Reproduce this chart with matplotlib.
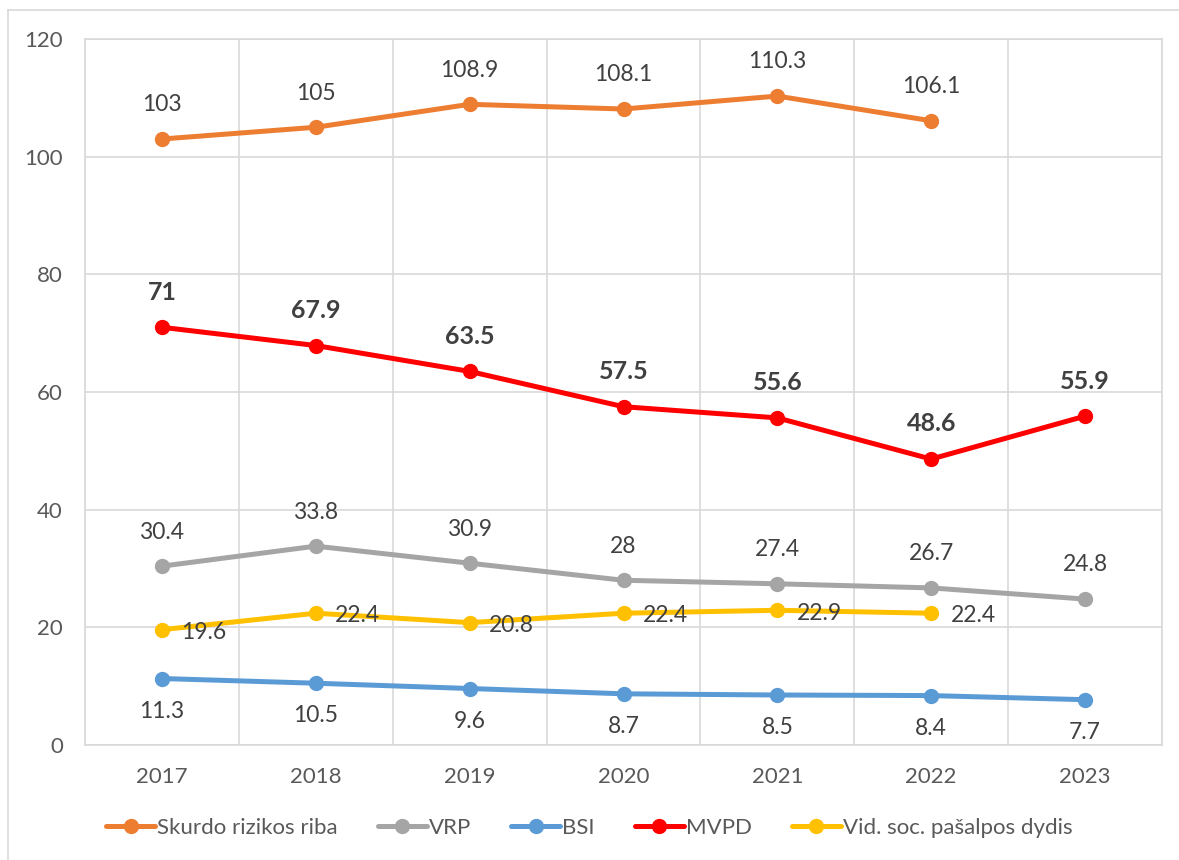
import matplotlib.pyplot as plt
from matplotlib.lines import Line2D
import numpy as np

plt.rcParams["font.family"] = ["Lato", "DejaVu Sans"]

years = ["2017", "2018", "2019", "2020", "2021", "2022", "2023"]
skurdo = [103, 105, 108.9, 108.1, 110.3, 106.1, None]
vrp = [30.4, 33.8, 30.9, 28, 27.4, 26.7, 24.8]
bsi = [11.3, 10.5, 9.6, 8.7, 8.5, 8.4, 7.7]
mvpd = [71, 67.9, 63.5, 57.5, 55.6, 48.6, 55.9]
vid_soc = [19.6, 22.4, 20.8, 22.4, 22.9, 22.4, None]

TEXT = "#404040"
GRID = "#D9D9D9"

fig = plt.figure(figsize=(11.79, 8.6), dpi=100)
ax = fig.add_axes([85 / 1179, 1 - 745 / 860, (1162 - 85) / 1179, (745 - 39) / 860])

# light frame round the chart (left / top edges visible in the reference)
fig.add_artist(Line2D([8 / 1179, 8 / 1179], [0, 1 - 10 / 860], transform=fig.transFigure, color=GRID, lw=1.2))
fig.add_artist(Line2D([8 / 1179, 1], [1 - 10 / 860, 1 - 10 / 860], transform=fig.transFigure, color=GRID, lw=1.2))


def fmt(v):
    return f"{v:g}"


series = [
    ("Skurdo rizikos riba", skurdo, "#ED7D31", "above", "normal"),
    ("VRP", vrp, "#A5A5A5", "above", "normal"),
    ("BSI", bsi, "#5B9BD5", "below", "normal"),
    ("MVPD", mvpd, "#FF0000", "above", "bold"),
    ("Vid. soc. pašalpos dydis", vid_soc, "#FFC000", "right", "normal"),
]

x = np.arange(len(years))
for name, vals, color, pos, weight in series:
    xs = [i for i, v in zip(x, vals) if v is not None]
    ys = [v for v in vals if v is not None]
    ax.plot(xs, ys, color=color, lw=3.6, marker="o", ms=10, label=name, solid_capstyle="round", zorder=3)
    size = 18 if weight == "bold" else 16.5
    for xi, yi in zip(xs, ys):
        if pos == "above":
            ax.annotate(fmt(yi), (xi, yi), xytext=(0, 17), textcoords="offset points",
                        ha="center", va="bottom", fontsize=size, color=TEXT, fontweight=weight)
        elif pos == "below":
            ax.annotate(fmt(yi), (xi, yi), xytext=(0, -16), textcoords="offset points",
                        ha="center", va="top", fontsize=size, color=TEXT, fontweight=weight)
        else:
            ax.annotate(fmt(yi), (xi, yi), xytext=(14, -2), textcoords="offset points",
                        ha="left", va="center", fontsize=size, color=TEXT, fontweight=weight)

ax.set_xlim(-0.5, len(years) - 0.5)
ax.set_ylim(0, 120)
ax.set_yticks(np.arange(0, 121, 20))
ax.set_xticks(x)
ax.set_xticklabels(years)
ax.set_xticks(np.arange(-0.5, len(years), 1), minor=True)
ax.grid(True, which="major", axis="y", color=GRID, lw=1.2)
ax.grid(True, which="minor", axis="x", color=GRID, lw=1.2)
ax.set_axisbelow(True)
ax.tick_params(which="both", length=0, labelsize=16, colors="#595959")
ax.tick_params(axis="x", pad=16)
ax.tick_params(axis="y", pad=16)
for s in ax.spines.values():
    s.set_color(GRID)
    s.set_linewidth(1.2)

fig.legend(loc="center", bbox_to_anchor=(0.5, 1 - 828 / 860), ncol=5, frameon=False,
           fontsize=16, labelcolor="#595959", handlelength=2.2, handletextpad=0.1, columnspacing=1.8)

fig.savefig("out.png", dpi=100)
